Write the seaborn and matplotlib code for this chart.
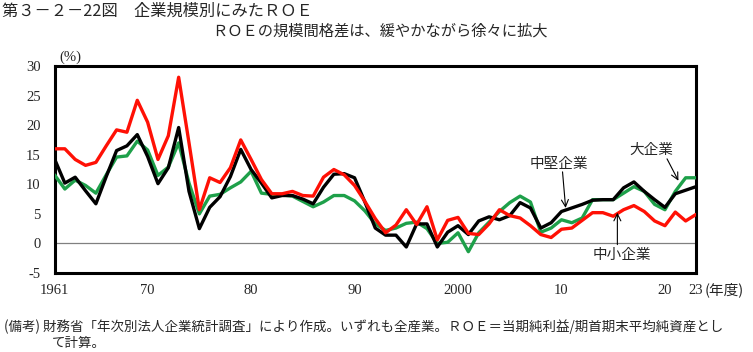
import matplotlib
matplotlib.use("Agg")
import matplotlib.pyplot as plt
import seaborn as sns
import pandas as pd

years = list(range(1961, 2024))

large = [11.6, 9.2, 10.7, 9.8, 8.5, 11.6, 14.6, 14.8, 17.3, 15.8,
         11.5, 12.9, 17.0, 10.2, 5.0, 8.0, 8.3, 9.4, 10.4, 12.2,
         8.5, 8.3, 8.2, 8.0, 7.1, 6.2, 7.0, 8.1, 8.1, 7.2,
         5.5, 3.3, 2.2, 2.6, 3.4, 3.6, 2.5, 0.0, 0.2, 1.8,
         -1.4, 1.8, 3.6, 5.4, 6.9, 8.0, 7.0, 1.9, 2.6, 4.0,
         3.5, 4.3, 7.4, 7.4, 7.4, 8.5, 9.6, 8.8, 6.6, 5.7,
         8.8, 11.1, 11.1]

medium = [14.3, 10.2, 11.2, 8.9, 6.7, 11.3, 15.7, 16.5, 18.4, 14.7,
          10.1, 12.8, 19.6, 8.8, 2.5, 6.1, 7.9, 11.3, 15.9, 12.5,
          10.2, 7.7, 8.1, 8.1, 7.5, 6.7, 9.5, 11.7, 11.8, 11.1,
          7.0, 2.6, 1.4, 1.4, -0.6, 3.3, 3.3, -0.6, 1.9, 3.0,
          1.5, 3.8, 4.5, 4.0, 4.7, 6.9, 6.0, 2.6, 3.5, 5.4,
          6.0, 6.6, 7.3, 7.4, 7.4, 9.4, 10.4, 8.8, 7.4, 6.1,
          8.4, 9.0, 9.6]

small = [16.0, 16.0, 14.2, 13.2, 13.7, 16.5, 19.2, 18.8, 24.2, 20.5,
         14.2, 18.2, 28.1, 17.0, 5.7, 11.1, 10.3, 12.8, 17.5, 14.2,
         10.8, 8.4, 8.4, 8.8, 8.1, 8.0, 11.2, 12.5, 11.6, 9.8,
         7.1, 4.2, 1.8, 3.1, 5.7, 3.2, 6.2, 0.6, 3.9, 4.4,
         1.7, 1.5, 3.3, 5.7, 4.7, 4.3, 3.0, 1.5, 1.0, 2.4,
         2.6, 3.9, 5.2, 5.2, 4.6, 5.7, 6.4, 5.4, 3.8, 3.0,
         5.3, 3.8, 4.9]

series_names = ["大企業", "中堅企業", "中小企業"]
series_colors = ["#1ea04a", "#000000", "#ff1005"]

xtick_vals = [1961, 1970, 1980, 1990, 2000, 2010, 2020, 2023]
xtick_labels = ["1961", "70", "80", "90", "2000", "10", "20", "23"]
ytick_vals = [-5, 0, 5, 10, 15, 20, 25, 30]

title = "第３－２－22図　企業規模別にみたＲＯＥ"
subtitle = "ＲＯＥの規模間格差は、緩やかながら徐々に拡大"
note1 = "(備考) 財務省「年次別法人企業統計調査」により作成。いずれも全産業。ＲＯＥ＝当期純利益/期首期末平均純資産とし"
note2 = "て計算。"

df = pd.DataFrame({
    "year": years * 3,
    "roe": large + medium + small,
    "size": [series_names[0]] * len(years) + [series_names[1]] * len(years) + [series_names[2]] * len(years),
})

sns.set_style("white")
plt.rcParams["font.family"] = ["Noto Sans CJK JP", "DejaVu Sans"]

W, H = 753, 352
fig = plt.figure(figsize=(W / 100, H / 100), dpi=100)
L, R, T, B = 54.5, 696, 66, 273
ax = fig.add_axes([L / W, 1 - B / H, (R - L) / W, (B - T) / H])

ax.axhline(0, color="#808080", lw=0.9, zorder=1)

sns.lineplot(data=df, x="year", y="roe", hue="size", hue_order=series_names,
             palette=dict(zip(series_names, series_colors)), linewidth=2.4,
             legend=False, ax=ax, zorder=3)

ax.set_xlim(1961, 2023)
ax.set_ylim(-5, 30)
ax.set_xlabel("")
ax.set_ylabel("")
ax.set_xticks(xtick_vals)
ax.set_xticklabels(xtick_labels, family="Liberation Serif", fontsize=10.5)
ax.set_yticks(ytick_vals)
ax.set_yticklabels([str(v) for v in ytick_vals], family="Liberation Serif", fontsize=10.5)
ax.tick_params(axis="both", length=0)
ax.tick_params(axis="y", pad=10)
ax.tick_params(axis="x", pad=8)
for sp in ax.spines.values():
    sp.set_visible(True)
    sp.set_color("black")
    sp.set_linewidth(2.2)
ax.grid(False)

# unit labels
fig.text(70 / W, 1 - 57 / H, "(%)", family="Liberation Serif", fontsize=10.5, ha="center", va="center")
fig.text(705 / W, 1 - 290 / H, "(年度)", fontsize=10.5, ha="left", va="center")

# titles
fig.text(2 / W, 1 - 11 / H, title, fontsize=11.7, ha="left", va="center")
fig.text(380 / W, 1 - 31 / H, subtitle, fontsize=11, ha="center", va="center")

# notes
fig.text(4 / W, 1 - 327 / H, note1, fontsize=9.7, ha="left", va="center")
fig.text(52 / W, 1 - 343 / H, note2, fontsize=9.7, ha="left", va="center")

# annotations
arrow = dict(arrowstyle="->,head_length=0.5,head_width=0.25", color="black", lw=0.8, shrinkA=0, shrinkB=0)
ax.text(2009.7, 13.5, "中堅企業", fontsize=10.5, ha="center", va="center")
ax.annotate("", xy=(2010.4, 6.0), xytext=(2010.1, 12.1), arrowprops=arrow)
ax.text(2018.7, 15.9, "大企業", fontsize=10.5, ha="center", va="center")
ax.annotate("", xy=(2021.3, 10.6), xytext=(2020.2, 14.3), arrowprops=arrow)
ax.text(2015.8, -2.0, "中小企業", fontsize=10.5, ha="center", va="center")
ax.annotate("", xy=(2015.4, 5.2), xytext=(2015.4, -0.2), arrowprops=arrow)

fig.savefig("out.png", dpi=100)
